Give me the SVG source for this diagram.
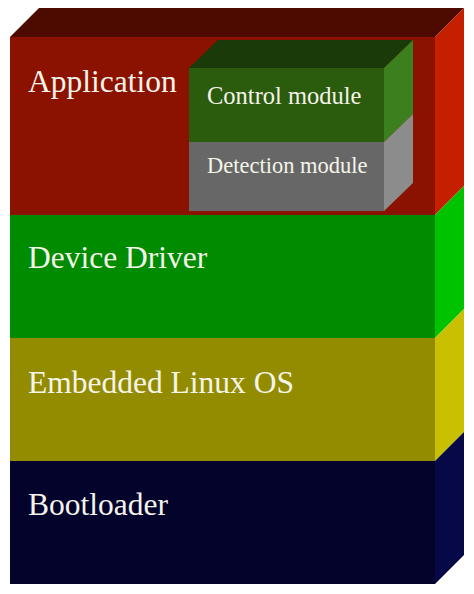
<svg xmlns="http://www.w3.org/2000/svg" width="474" height="594" viewBox="0 0 474 594">
<style>
text{font-family:"Liberation Serif","Times New Roman",serif;fill:#f4f4ea}
.big{font-size:31.5px}
</style>
<rect width="474" height="594" fill="#ffffff"/>
<g id="application">
<polygon points="10,37 39,8 464,8 435,37" fill="#4d0b00"/>
<rect x="10" y="37" width="425" height="178" fill="#8c1200"/>
<polygon points="435,37 464,8 464,186 435,215" fill="#c42000"/>
<text class="big" x="28" y="92">Application</text>
</g>
<g id="control-module">
<polygon points="189,68 218,40 413,40 384,68" fill="#1b3a09"/>
<rect x="189" y="68" width="195" height="74" fill="#2b5b0c"/>
<polygon points="384,68 413,40 413,114 384,142" fill="#3c7f1e"/>
<text x="207" y="104" font-size="24.5">Control module</text>
</g>
<g id="detection-module">
<rect x="189" y="142" width="195" height="69" fill="#676767"/>
<polygon points="384,142 413,114 413,183 384,211" fill="#8c8c8c"/>
<text x="207" y="173" font-size="22.5">Detection module</text>
</g>
<g id="device-driver">
<rect x="10" y="215" width="425" height="123" fill="#008c00"/>
<polygon points="435,215 464,186 464,309 435,338" fill="#00c300"/>
<text class="big" x="28" y="268">Device Driver</text>
</g>
<g id="embedded-linux-os">
<rect x="10" y="338" width="425" height="123" fill="#948c00"/>
<polygon points="435,338 464,309 464,432 435,461" fill="#c8c000"/>
<text class="big" x="28" y="393">Embedded Linux OS</text>
</g>
<g id="bootloader">
<rect x="10" y="461" width="425" height="123" fill="#04032c"/>
<polygon points="435,461 464,432 464,555 435,584" fill="#070848"/>
<text class="big" x="28" y="515">Bootloader</text>
</g>
<g id="connectors"/>
</svg>
